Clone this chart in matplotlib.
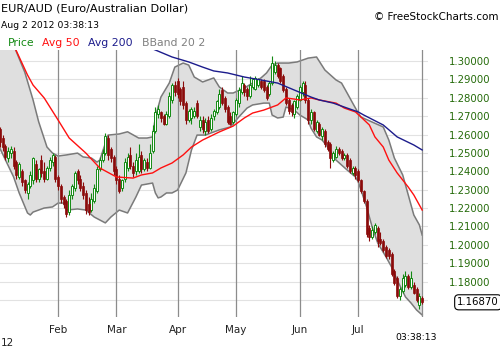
import numpy as np
import pandas as pd
import matplotlib
matplotlib.use("Agg")
import matplotlib.pyplot as plt

# EUR/AUD daily bars, Jan 3 - Aug 2 2012
dates = pd.bdate_range("2012-01-03", "2012-08-02")

opens = [
    1.263, 1.258, 1.254, 1.247, 1.250, 1.251, 1.245, 1.237, 1.240, 1.235,
    1.228, 1.232, 1.235, 1.244, 1.236, 1.246, 1.240, 1.236, 1.242, 1.245,
    1.248, 1.237, 1.232, 1.226, 1.224, 1.218, 1.227, 1.231, 1.240, 1.236,
    1.232, 1.228, 1.222, 1.219, 1.224, 1.229, 1.241, 1.246, 1.250, 1.258,
    1.252, 1.248, 1.241, 1.236, 1.231, 1.236, 1.242, 1.249, 1.243, 1.240,
    1.240, 1.249, 1.241, 1.245, 1.242, 1.251, 1.262, 1.271, 1.272, 1.270,
    1.266, 1.270, 1.279, 1.287, 1.289, 1.285, 1.286, 1.277, 1.268, 1.269,
    1.270, 1.277, 1.264, 1.268, 1.262, 1.268, 1.263, 1.270, 1.272, 1.275,
    1.284, 1.280, 1.275, 1.270, 1.267, 1.271, 1.277, 1.283, 1.287, 1.285,
    1.281, 1.286, 1.285, 1.287, 1.289, 1.289, 1.286, 1.282, 1.288, 1.294,
    1.298, 1.296, 1.292, 1.285, 1.279, 1.276, 1.271, 1.275, 1.279, 1.283,
    1.287, 1.279, 1.268, 1.272, 1.262, 1.266, 1.259, 1.262, 1.256, 1.255,
    1.246, 1.248, 1.252, 1.251, 1.247, 1.249, 1.246, 1.239, 1.242, 1.240,
    1.235, 1.229, 1.224, 1.209, 1.204, 1.207, 1.209, 1.203, 1.202, 1.199,
    1.197, 1.195, 1.186, 1.182, 1.172, 1.175, 1.178, 1.183, 1.177, 1.178,
    1.176, 1.167, 1.171,
]
highs = [
    1.264, 1.260, 1.255, 1.253, 1.254, 1.253, 1.246, 1.245, 1.241, 1.236,
    1.234, 1.240, 1.248, 1.246, 1.242, 1.249, 1.245, 1.243, 1.248, 1.250,
    1.249, 1.238, 1.233, 1.227, 1.225, 1.230, 1.233, 1.240, 1.241, 1.238,
    1.234, 1.230, 1.226, 1.228, 1.233, 1.243, 1.248, 1.252, 1.261, 1.260,
    1.253, 1.249, 1.243, 1.238, 1.236, 1.247, 1.250, 1.253, 1.245, 1.250,
    1.255, 1.251, 1.247, 1.247, 1.255, 1.265, 1.275, 1.276, 1.273, 1.271,
    1.273, 1.283, 1.288, 1.289, 1.291, 1.286, 1.289, 1.278, 1.274, 1.275,
    1.275, 1.279, 1.270, 1.270, 1.269, 1.270, 1.271, 1.274, 1.279, 1.285,
    1.286, 1.281, 1.276, 1.272, 1.273, 1.280, 1.286, 1.292, 1.288, 1.286,
    1.292, 1.291, 1.292, 1.291, 1.290, 1.290, 1.287, 1.289, 1.303, 1.300,
    1.299, 1.297, 1.293, 1.286, 1.280, 1.277, 1.279, 1.282, 1.287, 1.289,
    1.289, 1.280, 1.274, 1.273, 1.268, 1.267, 1.264, 1.263, 1.257, 1.256,
    1.251, 1.254, 1.253, 1.252, 1.250, 1.250, 1.247, 1.243, 1.243, 1.241,
    1.236, 1.230, 1.225, 1.211, 1.210, 1.212, 1.210, 1.207, 1.203, 1.200,
    1.198, 1.196, 1.187, 1.183, 1.177, 1.184, 1.186, 1.184, 1.186, 1.180,
    1.177, 1.174, 1.172,
]
lows = [
    1.253, 1.251, 1.246, 1.245, 1.247, 1.241, 1.236, 1.236, 1.232, 1.228,
    1.225, 1.231, 1.233, 1.234, 1.234, 1.237, 1.234, 1.235, 1.240, 1.243,
    1.234, 1.230, 1.223, 1.220, 1.215, 1.216, 1.225, 1.229, 1.233, 1.229,
    1.225, 1.217, 1.216, 1.218, 1.223, 1.228, 1.240, 1.245, 1.249, 1.246,
    1.245, 1.238, 1.233, 1.228, 1.229, 1.234, 1.240, 1.241, 1.237, 1.238,
    1.239, 1.239, 1.240, 1.240, 1.241, 1.250, 1.261, 1.269, 1.267, 1.265,
    1.265, 1.269, 1.277, 1.281, 1.280, 1.276, 1.274, 1.266, 1.267, 1.266,
    1.269, 1.269, 1.262, 1.261, 1.260, 1.261, 1.262, 1.268, 1.271, 1.274,
    1.276, 1.272, 1.266, 1.265, 1.266, 1.270, 1.275, 1.282, 1.281, 1.279,
    1.280, 1.285, 1.284, 1.286, 1.285, 1.283, 1.279, 1.281, 1.287, 1.293,
    1.291, 1.288, 1.283, 1.276, 1.271, 1.270, 1.269, 1.274, 1.278, 1.281,
    1.277, 1.266, 1.266, 1.262, 1.261, 1.259, 1.257, 1.253, 1.251, 1.242,
    1.245, 1.247, 1.249, 1.246, 1.246, 1.242, 1.239, 1.238, 1.236, 1.234,
    1.228, 1.223, 1.204, 1.202, 1.203, 1.206, 1.199, 1.200, 1.196, 1.193,
    1.192, 1.183, 1.178, 1.171, 1.170, 1.174, 1.177, 1.176, 1.176, 1.173,
    1.169, 1.165, 1.168,
]
closes = [
    1.256, 1.253, 1.248, 1.251, 1.252, 1.243, 1.238, 1.244, 1.234, 1.230,
    1.233, 1.238, 1.247, 1.236, 1.241, 1.239, 1.236, 1.242, 1.246, 1.249,
    1.236, 1.232, 1.225, 1.222, 1.217, 1.227, 1.232, 1.239, 1.235, 1.231,
    1.227, 1.219, 1.218, 1.225, 1.231, 1.241, 1.246, 1.250, 1.259, 1.249,
    1.247, 1.240, 1.235, 1.229, 1.235, 1.245, 1.248, 1.243, 1.239, 1.246,
    1.248, 1.241, 1.246, 1.242, 1.250, 1.262, 1.272, 1.274, 1.269, 1.266,
    1.271, 1.281, 1.287, 1.283, 1.282, 1.278, 1.276, 1.268, 1.273, 1.274,
    1.273, 1.270, 1.268, 1.263, 1.267, 1.262, 1.269, 1.273, 1.278, 1.282,
    1.277, 1.274, 1.267, 1.266, 1.272, 1.279, 1.284, 1.288, 1.283, 1.281,
    1.287, 1.290, 1.291, 1.290, 1.286, 1.284, 1.280, 1.288, 1.299, 1.298,
    1.292, 1.289, 1.284, 1.277, 1.273, 1.272, 1.278, 1.281, 1.286, 1.288,
    1.279, 1.268, 1.272, 1.263, 1.267, 1.260, 1.263, 1.255, 1.252, 1.247,
    1.250, 1.252, 1.250, 1.247, 1.249, 1.243, 1.240, 1.242, 1.238, 1.235,
    1.229, 1.224, 1.206, 1.204, 1.208, 1.211, 1.202, 1.201, 1.197, 1.194,
    1.194, 1.184, 1.179, 1.172, 1.176, 1.182, 1.183, 1.177, 1.182, 1.174,
    1.170, 1.172, 1.1687,
]

# indicator lines, keyed by trading-day index
ma50_day = [0, 5, 10, 12, 16, 21, 25, 31, 36, 42, 48, 51, 55, 58, 62, 66, 69,
            73, 76, 79, 84, 88, 91, 95, 100, 103, 106, 108, 112, 115, 121,
            124, 128, 130, 133, 135, 138, 140, 143, 147, 149, 152]
ma50 = [1.3277, 1.3087, 1.2924, 1.2869, 1.2799, 1.2679, 1.2581, 1.2499,
        1.2418, 1.2369, 1.2363, 1.2380, 1.2391, 1.2418, 1.2445, 1.2489,
        1.2532, 1.2570, 1.2592, 1.2614, 1.2646, 1.2690, 1.2717, 1.2733,
        1.2761, 1.2799, 1.2793, 1.2788, 1.2799, 1.2788, 1.2771, 1.2744,
        1.2723, 1.2695, 1.2652, 1.2587, 1.2532, 1.2461, 1.2391, 1.2314,
        1.2271, 1.2189]

ma200_day = [47, 56, 62, 68, 73, 77, 82, 88, 94, 100, 106, 112, 115, 120,
             125, 129, 131, 138, 143, 149, 152]
ma200 = [1.3114, 1.3060, 1.3022, 1.2995, 1.2967, 1.2946, 1.2935, 1.2913,
         1.2897, 1.2880, 1.2842, 1.2804, 1.2788, 1.2771, 1.2744, 1.2723,
         1.2706, 1.2652, 1.2587, 1.2543, 1.2516]

upper_day = [0, 5, 9, 12, 14, 17, 19, 21, 24, 28, 30, 33, 35, 36, 39, 43, 46,
             50, 53, 55, 56, 58, 61, 63, 66, 68, 70, 73, 75, 77, 79, 82, 84,
             88, 91, 94, 96, 98, 100, 104, 107, 111, 114, 117, 121, 123, 125,
             127, 129, 130, 134, 138, 140, 142, 145, 147, 149, 151, 152]
upper = [1.3245, 1.3087, 1.2940, 1.2788, 1.2670, 1.2532, 1.2499, 1.2483,
         1.2489, 1.2499, 1.2478, 1.2472, 1.2450, 1.2461, 1.2597, 1.2603,
         1.2615, 1.2581, 1.2581, 1.2587, 1.2695, 1.2804, 1.2880, 1.2967,
         1.2989, 1.2978, 1.2913, 1.2886, 1.2897, 1.2908, 1.2859, 1.2826,
         1.2826, 1.2853, 1.2880, 1.2908, 1.2935, 1.2978, 1.2989, 1.2989,
         1.2995, 1.3016, 1.3022, 1.2951, 1.2897, 1.2880, 1.2826, 1.2771,
         1.2717, 1.2695, 1.2668, 1.2641, 1.2570, 1.2472, 1.2380, 1.2271,
         1.2162, 1.2108, 1.2053]

lower_day = [0, 5, 7, 10, 11, 12, 16, 19, 21, 23, 24, 28, 31, 34, 36, 38, 40,
             43, 46, 49, 51, 55, 56, 57, 58, 60, 62, 64, 67, 69, 71, 74, 77,
             79, 83, 86, 89, 91, 95, 97, 98, 100, 102, 103, 106, 108, 111,
             112, 114, 116, 118, 121, 123, 125, 128, 129, 130, 132, 134, 136,
             139, 141, 143, 146, 148, 150, 152]
lower = [1.2527, 1.2369, 1.2282, 1.2173, 1.2162, 1.2178, 1.2200, 1.2206,
         1.2227, 1.2227, 1.2189, 1.2195, 1.2189, 1.2151, 1.2135, 1.2119,
         1.2151, 1.2189, 1.2173, 1.2260, 1.2325, 1.2336, 1.2282, 1.2255,
         1.2260, 1.2282, 1.2282, 1.2298, 1.2391, 1.2516, 1.2597, 1.2597,
         1.2614, 1.2625, 1.2641, 1.2695, 1.2744, 1.2761, 1.2771, 1.2771,
         1.2706, 1.2690, 1.2695, 1.2750, 1.2733, 1.2706, 1.2679, 1.2635,
         1.2587, 1.2570, 1.2532, 1.2461, 1.2434, 1.2407, 1.2369, 1.2342,
         1.2298, 1.2206, 1.2097, 1.2010, 1.1934, 1.1879, 1.1808, 1.1716,
         1.1683, 1.1645, 1.1618]

price_levels = [1.18, 1.19, 1.20, 1.21, 1.22, 1.23, 1.24, 1.25, 1.26, 1.27,
                1.28, 1.29, 1.30]
grid_levels = [1.17] + price_levels
shown_months = ["Feb", "Mar", "Apr", "May", "Jun", "Jul"]

UP = "#138a13"
DOWN = "#8b0a0a"

fig = plt.figure(figsize=(5, 3.5), dpi=100)
ax = fig.add_axes([0, 33 / 350, 428 / 500, 267 / 350])

x = np.arange(len(dates))
o = np.array(opens)
h = np.array(highs)
l = np.array(lows)
c = np.array(closes)

for lv in grid_levels:
    ax.axhline(lv, color="#e2e2e2", lw=0.8, zorder=0)

# bollinger band shading and edges
band_x = upper_day + lower_day[::-1]
band_y = upper + lower[::-1]
ax.fill(band_x, band_y, color="#dfdfdf", lw=0, zorder=1)
ax.plot(upper_day, upper, color="#7a7a7a", lw=1.1, zorder=2)
ax.plot(lower_day, lower, color="#7a7a7a", lw=1.1, zorder=2)

# month separators and the current bar
month_pos = []
for i in range(1, len(dates)):
    if dates[i].month != dates[i - 1].month and dates[i].strftime("%b") in shown_months:
        month_pos.append(i)
for p in month_pos + [len(dates) - 1]:
    ax.axvline(p, color="#8c8c8c", lw=0.9, zorder=2.5)

# candles
up = c >= o
ax.vlines(x[up], l[up], h[up], color=UP, lw=0.8, zorder=3)
ax.vlines(x[~up], l[~up], h[~up], color=DOWN, lw=0.8, zorder=3)
body = np.maximum(np.abs(c - o), 0.0006)
ax.bar(x[up], body[up], bottom=np.minimum(o, c)[up], width=0.72,
       facecolor="white", edgecolor=UP, lw=0.7, zorder=4)
ax.bar(x[~up], body[~up], bottom=np.minimum(o, c)[~up], width=0.72,
       facecolor=DOWN, edgecolor=DOWN, lw=0.5, zorder=4)

ax.plot(ma50_day, ma50, color="#ff1010", lw=1.0, zorder=5)
ax.plot(ma200_day, ma200, color="#1c1c8c", lw=1.0, zorder=5)

ax.set_xlim(0.1, 154.1)
ax.set_ylim(1.1607, 1.3060)
for s in ax.spines.values():
    s.set_visible(False)

ax.set_xticks(month_pos)
ax.set_xticklabels(shown_months)
ax.tick_params(axis="x", length=0, pad=6, labelsize=7.5, labelcolor="#222222")

ax.yaxis.tick_right()
ax.set_yticks(price_levels)
ax.set_yticklabels([f"{v:.5f}" for v in price_levels])
ax.tick_params(axis="y", length=0, pad=15, labelsize=7.3, labelcolor="#256b0a")

# last price tag
ax.text(1.117, closes[-1], f"{closes[-1]:.5f}", transform=ax.get_yaxis_transform(),
        ha="center", va="center", fontsize=7.3, color="black", clip_on=False,
        bbox=dict(boxstyle="round,pad=0.25,rounding_size=0.4", fc="white",
                  ec="black", lw=0.8))

# header
fig.text(1 / 500, 1 - 8.5 / 350, "EUR/AUD (Euro/Australian Dollar)",
         fontsize=8.1, va="center", ha="left")
fig.text(1 / 500, 1 - 25 / 350, "Aug 2 2012 03:38:13",
         fontsize=6.7, va="center", ha="left")
fig.text(498 / 500, 1 - 17 / 350, "\u00a9 FreeStockCharts.com",
         fontsize=7.5, va="center", ha="right")
legend_items = [("Price", UP, 8), ("Avg 50", "#ff1010", 42),
                ("Avg 200", "#1c1c8c", 88), ("BBand 20 2", "#808080", 142)]
for txt, col, px in legend_items:
    fig.text(px / 500, 1 - 43 / 350, txt, fontsize=7.8, color=col,
             va="center", ha="left")

fig.text(0.5 / 500, 1 - 343.5 / 350, "12", fontsize=7.5, va="center",
         ha="left", color="#222222")
fig.text(416 / 500, 1 - 337 / 350, "03:38:13", fontsize=6.7, va="center",
         ha="center")

fig.savefig("out.png", dpi=100)
